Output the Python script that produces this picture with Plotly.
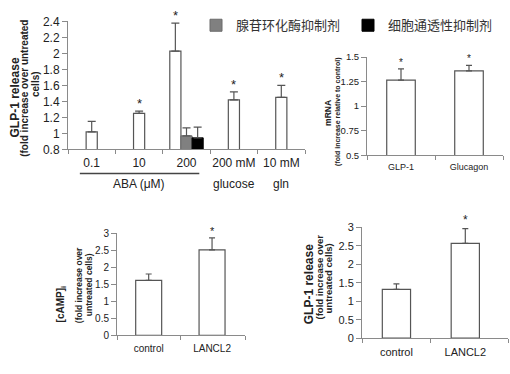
import plotly.graph_objects as go

# ---------------- data ----------------
p1_cats = ["0.1", "10", "200", "200 mM", "10 mM"]
p1_vals = [1.02, 1.25, 2.03, 1.42, 1.45]
p1_err = [0.13, 0.03, 0.35, 0.10, 0.15]
p1_inh_names = ["腺苷环化酶抑制剂", "细胞通透性抑制剂"]
p1_inh_vals = [0.97, 0.945]
p1_inh_err = [0.10, 0.135]
p1_sig_idx = [1, 2, 3, 4]          # bars marked with *

p2_cats = ["GLP-1", "Glucagon"]
p2_vals = [1.265, 1.36]
p2_err = [0.115, 0.055]

p3_cats = ["control", "LANCL2"]
p3_vals = [1.61, 2.51]
p3_err = [0.19, 0.35]

p4_cats = ["control", "LANCL2"]
p4_vals = [1.32, 2.57]
p4_err = [0.15, 0.40]

FONT = "Liberation Sans, Arial, sans-serif"
CJK = "Noto Sans CJK SC, sans-serif"
OUT = "#555555"
AX = "#8a8a8a"
TXT = "#222222"

W, H = 510, 374
def px(x0, x1):
    return [x0 / W, x1 / W]
def py(ytop, ybot):
    return [1 - ybot / H, 1 - ytop / H]

fig = go.Figure()

def errbar(vals, w=4):
    return dict(type="data", array=vals, arrayminus=[0] * len(vals), symmetric=False,
                color=OUT, thickness=1.2, width=w)

# ---------- panel 1 ----------
xs1 = [1, 2, 3, 4, 5]
bw1 = 0.235
xs1_white = [x - (bw1 if i == 2 else 0) for i, x in enumerate(xs1)]
fig.add_trace(go.Bar(x=xs1_white, y=p1_vals, width=bw1,
                     marker=dict(color="white", line=dict(color=OUT, width=1.2)),
                     error_y=errbar(p1_err), showlegend=False, xaxis="x", yaxis="y"))
fig.add_trace(go.Bar(x=[3], y=[p1_inh_vals[0]], width=bw1, name=p1_inh_names[0],
                     marker=dict(color="#808080", line=dict(color="#6a6a6a", width=1)),
                     error_y=errbar([p1_inh_err[0]]), xaxis="x", yaxis="y", legend="legend"))
fig.add_trace(go.Bar(x=[3 + bw1], y=[p1_inh_vals[1]], width=bw1, name=p1_inh_names[1],
                     marker=dict(color="#000000", line=dict(color="#000000", width=1)),
                     error_y=errbar([p1_inh_err[1]]), xaxis="x", yaxis="y", legend="legend2"))

# ---------- panel 2 ----------
fig.add_trace(go.Bar(x=[1, 2], y=p2_vals, width=0.42,
                     marker=dict(color="white", line=dict(color=OUT, width=1.2)),
                     error_y=errbar(p2_err, 3), showlegend=False, xaxis="x2", yaxis="y2"))
# ---------- panel 3 ----------
fig.add_trace(go.Bar(x=[1, 2], y=p3_vals, width=0.41,
                     marker=dict(color="white", line=dict(color=OUT, width=1.2)),
                     error_y=errbar(p3_err, 3), showlegend=False, xaxis="x3", yaxis="y3"))
# ---------- panel 4 ----------
fig.add_trace(go.Bar(x=[1, 2], y=p4_vals, width=0.41,
                     marker=dict(color="white", line=dict(color=OUT, width=1.2)),
                     error_y=errbar(p4_err, 3), showlegend=False, xaxis="x4", yaxis="y4"))

def xax(domain, anchor, rng, ticktext, size, standoff, minor_vals):
    return dict(domain=domain, anchor=anchor, range=rng, tickmode="array",
                tickvals=list(range(1, len(ticktext) + 1)), ticktext=ticktext,
                ticks="", showline=True, linecolor=AX, linewidth=1, showgrid=False,
                zeroline=False, tickfont=dict(family=FONT, size=size, color=TXT),
                ticklabelstandoff=standoff,
                minor=dict(tickmode="array", tickvals=minor_vals, ticks="outside",
                           ticklen=4, tickcolor=AX, showgrid=False))

def yax(domain, anchor, rng, dtick, size):
    return dict(domain=domain, anchor=anchor, range=rng, dtick=dtick, tick0=0,
                ticks="outside", ticklen=5, tickcolor=AX, showline=True, linecolor=AX,
                linewidth=1, showgrid=False, zeroline=False,
                tickfont=dict(family=FONT, size=size, color=TXT))

leg = dict(orientation="h", xanchor="left", yanchor="middle",
           font=dict(family=CJK, size=13, color="#333333"), itemwidth=30,
           bgcolor="rgba(0,0,0,0)", borderwidth=0)

fig.update_layout(
    width=W, height=H, margin=dict(l=0, r=0, t=0, b=0),
    paper_bgcolor="white", plot_bgcolor="white", barmode="overlay",
    xaxis=xax(px(68, 305), "y", [0.5, 5.5], p1_cats, 12, 2, [0.5, 1.5, 2.5, 3.5, 4.5, 5.5]),
    yaxis=yax(py(15, 148), "x", [0.8, 2.4], 0.2, 12),
    xaxis2=xax(px(367, 503), "y2", [0.5, 2.5], p2_cats, 9, 3, [0.5, 1.5, 2.5]),
    yaxis2=yax(py(52, 154), "x2", [0.5, 1.5], 0.25, 9.5),
    xaxis3=xax(px(117, 245), "y3", [0.5, 2.52], p3_cats, 10, 4, [0.5, 1.5, 2.52]),
    yaxis3=yax(py(235, 341), "x3", [0, 3], 0.5, 10),
    xaxis4=xax(px(362, 508), "y4", [0.5, 2.62], p4_cats, 11, 4, [0.5, 1.5, 2.62]),
    yaxis4=yax(py(229, 344), "x4", [0, 3], 0.5, 11),
    legend=dict(leg, x=196 / W, y=1 - 19 / H),
    legend2=dict(leg, x=348 / W, y=1 - 19 / H),
)

ann = []
def star(xref, yref, x, y, shift, size=13):
    ann.append(dict(x=x, y=y, xref=xref, yref=yref, text="*", showarrow=False,
                    font=dict(family=FONT, size=size, color=TXT), yanchor="bottom",
                    yshift=shift))

for i in p1_sig_idx:
    star("x", "y", xs1_white[i], p1_vals[i] + p1_err[i], -2)
for i in range(2):
    star("x2", "y2", i + 1, p2_vals[i] + p2_err[i], -1, 10)
star("x3", "y3", 2, p3_vals[1] + p3_err[1], -1, 11)
star("x4", "y4", 2, p4_vals[1] + p4_err[1], 0, 12)

def vtitle(x, y, text, size, bold=True):
    t = f"<b>{text}</b>" if bold else text
    ann.append(dict(x=x / W, y=1 - y / H, xref="paper", yref="paper", text=t,
                    textangle=-90, showarrow=False,
                    font=dict(family=FONT, size=size, color=TXT),
                    xanchor="center", yanchor="middle"))

# panel 1 y title
vtitle(15, 94, "GLP-1 release", 12)
vtitle(25, 85, "(fold increase over untreated", 10)
vtitle(35, 80, "cells)", 10)
# panel 2
vtitle(328, 110, "mRNA", 8.5)
vtitle(338, 109, "(fold increase relative to control)", 7)
# panel 3
vtitle(61, 309, "[cAMP]<sub>i</sub>", 10)
vtitle(79, 289, "(fold increase over", 8.5)
vtitle(89, 289, "untreated cells)", 8.5)
# panel 4
vtitle(309, 288, "GLP-1 release", 12)
vtitle(319, 281, "(fold increase over", 9.5)
vtitle(328, 282, "untreated cells)", 9.5)

# second row of panel-1 category labels
for xv, txt in [(2, "ABA (μM)"), (4, "glucose"), (5, "gln")]:
    ann.append(dict(x=xv, y=1 - 184 / H, xref="x", yref="paper", text=txt,
                    showarrow=False, font=dict(family=FONT, size=12, color=TXT),
                    xanchor="center", yanchor="middle"))
fig.update_layout(annotations=ann)

# bracket line under ABA groups
fig.add_shape(type="line", xref="x", yref="paper", x0=0.75, x1=3.27,
              y0=1 - 173 / H, y1=1 - 173 / H, line=dict(color="#444444", width=1.5))

fig.write_html("out.html", config={"displayModeBar": False},
               post_script="document.body.style.margin='0';document.body.style.overflow='hidden';")
